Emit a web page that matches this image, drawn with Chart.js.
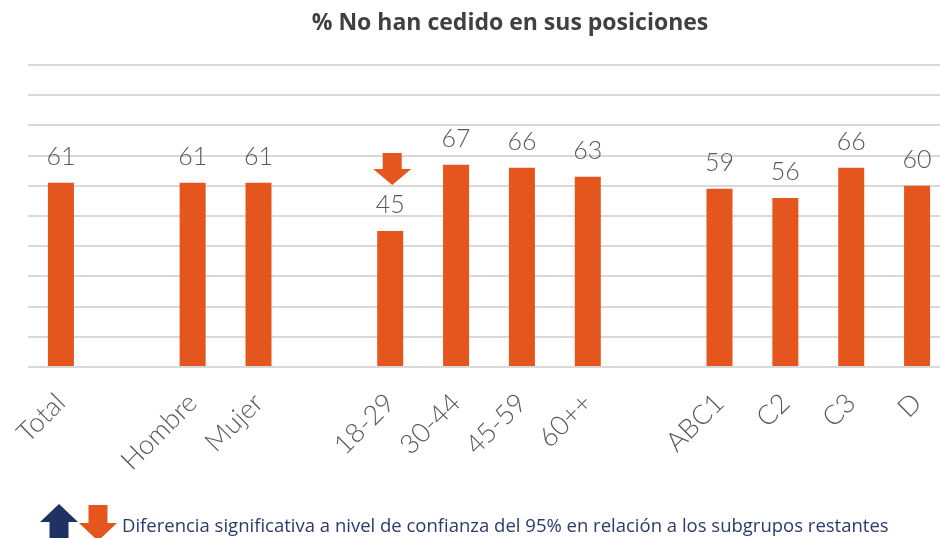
<html>
  <head>
    <title>% No han cedido en sus posiciones</title>
    <script src="https://cdn.jsdelivr.net/npm/chart.js@4.4.1/dist/chart.umd.min.js"></script>
    <style>
      body { margin: 0; background: #fff; overflow: hidden; }
      .wrap { width: 940px; height: 538px; overflow: hidden; }
    </style>
  </head>
  <body>
    <div class="wrap">
      <canvas id="chart" width="960" height="538"></canvas>
    </div>
    <script>
      // categorias (las vacias son huecos entre grupos)
      var categories = ['Total', '', 'Hombre', 'Mujer', '', '18-29', '30-44', '45-59', '60++', '', 'ABC1', 'C2', 'C3', 'D'];
      var values = [61, null, 61, 61, null, 45, 67, 66, 63, null, 59, 56, 66, 60];
      // 1 = significativamente mayor, -1 = menor
      var signif = [0, 0, 0, 0, 0, -1, 0, 0, 0, 0, 0, 0, 0, 0];
      var yTicks = [0, 10, 20, 30, 40, 50, 60, 70, 80, 90, 100];

      var chartTitle = '% No han cedido en sus posiciones';
      var noteText = 'Diferencia significativa a nivel de confianza del 95% en relación a los subgrupos restantes';

      var ORANGE = '#E5561F';
      var NAVY = '#1F3263';

      function arrow(ctx, cx, top, w, h, up, color) {
        var shaft = w * 0.5, head = h * 0.5;
        ctx.fillStyle = color;
        ctx.beginPath();
        if (up) {
          ctx.moveTo(cx, top);
          ctx.lineTo(cx + w / 2, top + head);
          ctx.lineTo(cx + shaft / 2, top + head);
          ctx.lineTo(cx + shaft / 2, top + h);
          ctx.lineTo(cx - shaft / 2, top + h);
          ctx.lineTo(cx - shaft / 2, top + head);
          ctx.lineTo(cx - w / 2, top + head);
        } else {
          ctx.moveTo(cx - shaft / 2, top);
          ctx.lineTo(cx + shaft / 2, top);
          ctx.lineTo(cx + shaft / 2, top + h - head);
          ctx.lineTo(cx + w / 2, top + h - head);
          ctx.lineTo(cx, top + h);
          ctx.lineTo(cx - w / 2, top + h - head);
          ctx.lineTo(cx - shaft / 2, top + h - head);
        }
        ctx.closePath();
        ctx.fill();
      }

      var extras = {
        id: 'extras',
        afterDatasetsDraw: function (chart) {
          var ctx = chart.ctx;
          var meta = chart.getDatasetMeta(0);
          ctx.save();
          ctx.textAlign = 'center';
          ctx.textBaseline = 'alphabetic';
          meta.data.forEach(function (bar, i) {
            if (values[i] == null) return;
            ctx.font = '300 25px Lato';
            ctx.fillStyle = '#595959';
            ctx.fillText(values[i], bar.x, bar.y - 18);
            if (signif[i] !== 0) {
              arrow(ctx, bar.x + 2, bar.y - 78, 38, 32, signif[i] > 0, signif[i] > 0 ? NAVY : ORANGE);
            }
          });

          // titulo
          ctx.font = 'bold 23px "Open Sans"';
          ctx.fillStyle = '#404040';
          ctx.textBaseline = 'middle';
          ctx.fillText(chartTitle, 510, 23);

          // nota inferior
          arrow(ctx, 59, 504, 38, 36, true, NAVY);
          arrow(ctx, 98, 505, 38, 36, false, ORANGE);
          ctx.font = '18.5px "Open Sans"';
          ctx.fillStyle = '#2B3A6B';
          ctx.textAlign = 'left';
          ctx.textBaseline = 'alphabetic';
          ctx.fillText(noteText, 122, 532);
          ctx.restore();
        }
      };

      new Chart(document.getElementById('chart'), {
        type: 'bar',
        data: {
          labels: categories,
          datasets: [{
            data: values,
            backgroundColor: ORANGE,
            categoryPercentage: 1,
            barPercentage: 0.395
          }]
        },
        options: {
          responsive: false,
          animation: false,
          layout: { padding: { left: 28, right: 10, top: 65, bottom: 0 } },
          plugins: { legend: { display: false }, tooltip: { enabled: false } },
          scales: {
            x: {
              grid: { display: false },
              border: { display: false },
              ticks: {
                autoSkip: false,
                minRotation: 45,
                maxRotation: 45,
                padding: 12,
                color: '#595959',
                font: { family: 'Lato', size: 27, weight: '300' }
              },
              afterFit: function (s) { s.height = 171; }
            },
            y: {
              min: 0,
              max: 100,
              afterBuildTicks: function (s) { s.ticks = yTicks.map(function (v) { return { value: v }; }); },
              ticks: { display: false },
              border: { display: false },
              grid: { color: '#D9D9D9', lineWidth: 2, drawTicks: false },
              afterFit: function (s) { s.width = 0; }
            }
          }
        },
        plugins: [extras]
      });
    </script>
  </body>
</html>
